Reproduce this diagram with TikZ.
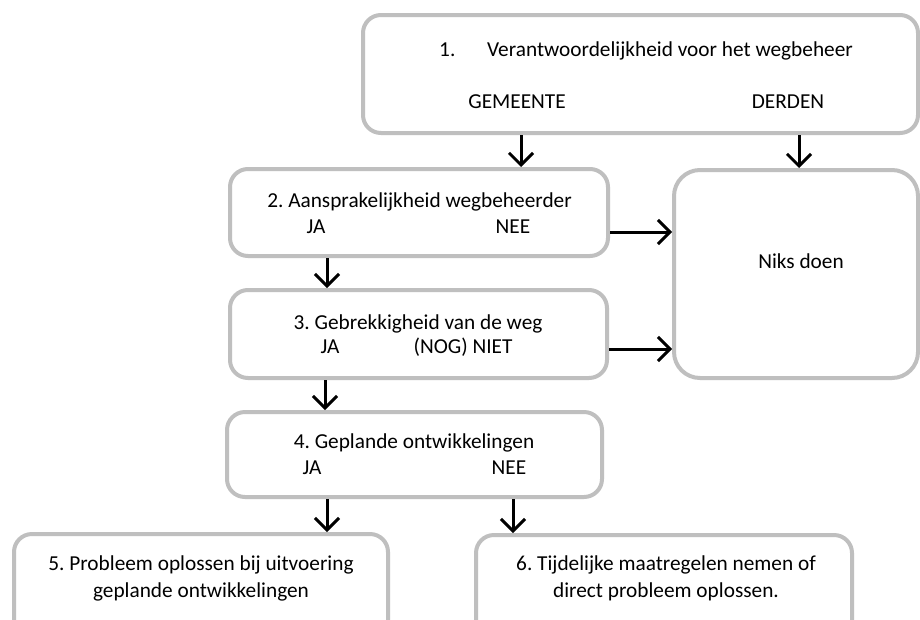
\documentclass[tikz,border=0pt]{standalone}
\usepackage{fontspec}
\setmainfont{Carlito}
\usetikzlibrary{arrows.meta}
\definecolor{boxgray}{HTML}{BFBFBF}
\frenchspacing
\begin{document}
\begin{tikzpicture}[x=1pt,y=-1pt,
  box/.style={draw=boxgray, line width=4pt, rounded corners=18pt, fill=white, inner sep=0pt},
  lbl/.style={font=\fontsize{21.3}{27}\selectfont\frenchspacing, inner sep=0pt, anchor=base, align=center},
  arr/.style={line width=3pt, -{Straight Barb[length=12pt,width=24pt]}}]
\useasboundingbox (0,0) rectangle (920,619);
\fill[white] (0,0) rectangle (920,619);
% boxes
\node[box, minimum width=555pt, minimum height=118pt] (b1) at (640.5,74) {};
\node[box, minimum width=378pt, minimum height=87pt] (b2) at (419,212.5) {};
\node[box, minimum width=377pt, minimum height=88pt] (b3) at (418.5,334) {};
\node[box, minimum width=375pt, minimum height=85pt] (b4) at (414.5,454.5) {};
\node[box, rounded corners=26pt, minimum width=244pt, minimum height=208pt] (nd) at (796,274) {};
\node[box, minimum width=374pt, minimum height=116pt] (b5) at (201,592) {};
\node[box, minimum width=376pt, minimum height=116pt] (b6) at (664,593) {};
% texts
\node[lbl, anchor=base west] (t1n) at (439,56) {1.};
\node[lbl, anchor=base west] (t1) at (487,56) {Verantwoordelijkheid voor het wegbeheer};
\node[lbl] (gem) at (517,108) {GEMEENTE};
\node[lbl] (der) at (788,108) {DERDEN};
\node[lbl] (t2) at (419.5,207) {2. Aansprakelijkheid wegbeheerder};
\node[lbl] (t2ja) at (316,233) {JA};
\node[lbl] (t2nee) at (513,233) {NEE};
\node[lbl] (t3) at (418,329) {3. Gebrekkigheid van de weg};
\node[lbl] (t3ja) at (330,353) {JA};
\node[lbl] (t3niet) at (463,353) {(NOG) NIET};
\node[lbl] (t4) at (414,448) {4. Geplande ontwikkelingen};
\node[lbl] (t4ja) at (312,474) {JA};
\node[lbl] (t4nee) at (509,474) {NEE};
\node[lbl] (tnd) at (801,268) {Niks doen};
\node[lbl] (t5) at (201,597) {5. Probleem oplossen bij uitvoering\\geplande ontwikkelingen};
\node[lbl] (t6) at (666,597) {6. Tijdelijke maatregelen nemen of\\direct probleem oplossen.};
% arrow positions
\coordinate (xa) at (521,0);
\coordinate (xb) at (799,0);
\coordinate (xc) at (327,0);
\coordinate (xd) at (325,0);
\coordinate (xe) at (327,0);
\coordinate (xf) at (513,0);
\coordinate (ya) at (0,232);
\coordinate (yb) at (0,349);
\draw[arr] (b1.south -| xa) -- (b2.north -| xa);
\draw[arr] (b1.south -| xb) -- (nd.north -| xb);
\draw[arr] (b2.south -| xc) -- (b3.north -| xc);
\draw[arr] (b3.south -| xd) -- (b4.north -| xd);
\draw[arr] (b4.south -| xe) -- (b5.north -| xe);
\draw[arr] (b4.south -| xf) -- (b6.north -| xf);
\draw[arr] (b2.east |- ya) -- (nd.west |- ya);
\draw[arr] (b3.east |- yb) -- (nd.west |- yb);
\end{tikzpicture}
\end{document}
